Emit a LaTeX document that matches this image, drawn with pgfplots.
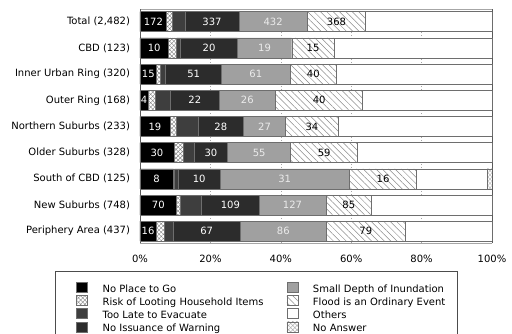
\documentclass[border=0pt]{standalone}
\usepackage{pgfplots}
\pgfplotsset{compat=1.18}
\usepackage{pgfplotstable}
\usepackage{fontspec}
\setmainfont{DejaVu Sans}
\usetikzlibrary{patterns,patterns.meta}
\definecolor{cTL}{RGB}{62,62,62}
\definecolor{cNW}{RGB}{44,44,44}
\definecolor{cSD}{RGB}{160,160,160}
\definecolor{cEdge}{RGB}{110,110,110}

% segment widths in percent of each row
\pgfplotstableread{
y np lt tl nw sd fo ot na
8 7.58 1.70 3.50 15.35 19.41 16.57 35.89 0
7 8.05 2.37 1.14 16.10 15.44 12.12 44.78 0
6 4.73 0.95 1.62 15.90 19.40 13.27 44.13 0
5 2.37 1.89 4.45 13.73 16.10 24.72 36.74 0
4 8.52 1.90 6.15 12.79 12.02 14.96 43.66 0
3 9.66 2.65 3.12 9.47 17.90 19.04 38.16 0
2 9.47 0.30 1.10 11.86 36.74 19.13 20.07 1.33
1 10.42 1.13 5.97 16.29 19.03 12.97 34.19 0
0 4.55 2.27 2.65 18.94 24.62 22.25 24.72 0
}\data

% label positions (segment centres) and label texts (counts)
\pgfplotstableread{
y cnp cnw csd cfo Lnp Lnw Lsd Lfo
8 3.79 20.455 37.835 55.825 172 337 432 368
7 4.025 19.61 35.38 49.16 10 20 19 15
6 2.365 15.25 32.90 49.235 15 51 61 40
5 1.185 15.575 30.49 50.90 4 22 26 40
4 4.26 22.965 35.37 48.86 19 28 27 34
3 4.83 20.165 33.85 52.32 30 30 55 59
2 4.735 16.80 41.10 69.035 8 10 31 16
1 5.21 25.665 43.325 59.325 70 109 127 85
0 2.275 18.94 40.72 64.155 16 67 86 79
}\labels

\pgfplotsset{
  limg/.style={legend image code/.code={%
    \draw[##1,draw=cEdge] (0bp,-1.5bp) rectangle (11bp,8.5bp);
    \path (-15bp,0bp) (26bp,0bp);}},
  geom/.style={scale only axis, width=352bp, height=234bp,
    xmin=0, xmax=100, ymin=-0.45, ymax=8.485,
    font=\fontsize{10bp}{12bp}\selectfont},
  lab/.style={only marks, mark=none, nodes near coords, point meta=explicit symbolic,
    every node near coord/.append style={anchor=center, text=#1}},
}

\begin{document}
\begin{tikzpicture}
\begin{axis}[
  geom,
  xbar stacked, bar width=20bp,
  /pgf/number format/assume math mode=true,
  xtick={0,20,40,60,80,100},
  xticklabel={\pgfmathprintnumber{\tick}\%},
  xticklabel style={yshift=-8.5bp},
  ytick={0,1,2,3,4,5,6,7,8},
  yticklabels={Periphery Area (437), New Suburbs (748), South of CBD (125), Older Suburbs (328), Northern Suburbs (233), Outer Ring (168), Inner Urban Ring (320), CBD (123), {Total (2,482)}},
  yticklabel style={xshift=-6.5bp},
  major tick length=0pt,
  xmajorgrids, grid style={gray!70, dash pattern=on 1.5bp off 1.5bp},
  separate axis lines,
  x axis line style={draw=gray!70},
  y axis line style={draw=black!65},
  legend columns=4, transpose legend, legend cell align=left,
  legend style={at={(-0.2415,-0.1197)}, anchor=north west, draw=black!70,
    inner xsep=6bp, inner ysep=11bp, column sep=0pt, row sep=0pt,
    nodes={inner xsep=0pt, inner ysep=0pt, text height=6bp, text depth=2.8bp}},
]
\addplot[fill=black, draw=cEdge, limg] table[x=np,y=y]{\data};
\addlegendentry{\makebox[169bp][l]{No Place to Go}}
\addplot[fill=white, draw=cEdge, postaction={pattern color=gray, pattern={Hatch[angle=45,distance=3bp,line width=0.4bp]}}, limg] table[x=lt,y=y]{\data};
\addlegendentry{\makebox[169bp][l]{Risk of Looting Household Items}}
\addplot[fill=cTL, draw=cEdge, limg] table[x=tl,y=y]{\data};
\addlegendentry{\makebox[169bp][l]{Too Late to Evacuate}}
\addplot[fill=cNW, draw=cEdge, limg] table[x=nw,y=y]{\data};
\addlegendentry{\makebox[169bp][l]{No Issuance of Warning}}
\addplot[fill=cSD, draw=cEdge, limg] table[x=sd,y=y]{\data};
\addlegendentry{\makebox[138bp][l]{Small Depth of Inundation}}
\addplot[fill=white, draw=cEdge, postaction={pattern color=gray!90, pattern={Lines[angle=-45,distance=4.5bp,line width=0.5bp]}}, limg] table[x=fo,y=y]{\data};
\addlegendentry{\makebox[138bp][l]{Flood is an Ordinary Event}}
\addplot[fill=white, draw=cEdge, limg] table[x=ot,y=y]{\data};
\addlegendentry{\makebox[138bp][l]{Others}}
\addplot[fill=white, draw=cEdge, postaction={pattern color=gray!60, pattern={Hatch[angle=45,distance=3bp,line width=0.4bp]}}, limg] table[x=na,y=y]{\data};
\addlegendentry{\makebox[138bp][l]{No Answer}}
\coordinate (bl) at (rel axis cs:0,0);
\end{axis}
\begin{axis}[geom, hide axis]
\addplot[lab=white] table[x=cnp,y=y,meta=Lnp]{\labels};
\addplot[lab=white] table[x=cnw,y=y,meta=Lnw]{\labels};
\addplot[lab=black!8] table[x=csd,y=y,meta=Lsd]{\labels};
\addplot[lab=black] table[x=cfo,y=y,meta=Lfo]{\labels};
\end{axis}
\pgfresetboundingbox
\path ([xshift=-140bp,yshift=-91bp]bl) rectangle ([xshift=372bp,yshift=243bp]bl);
\end{tikzpicture}
\end{document}
